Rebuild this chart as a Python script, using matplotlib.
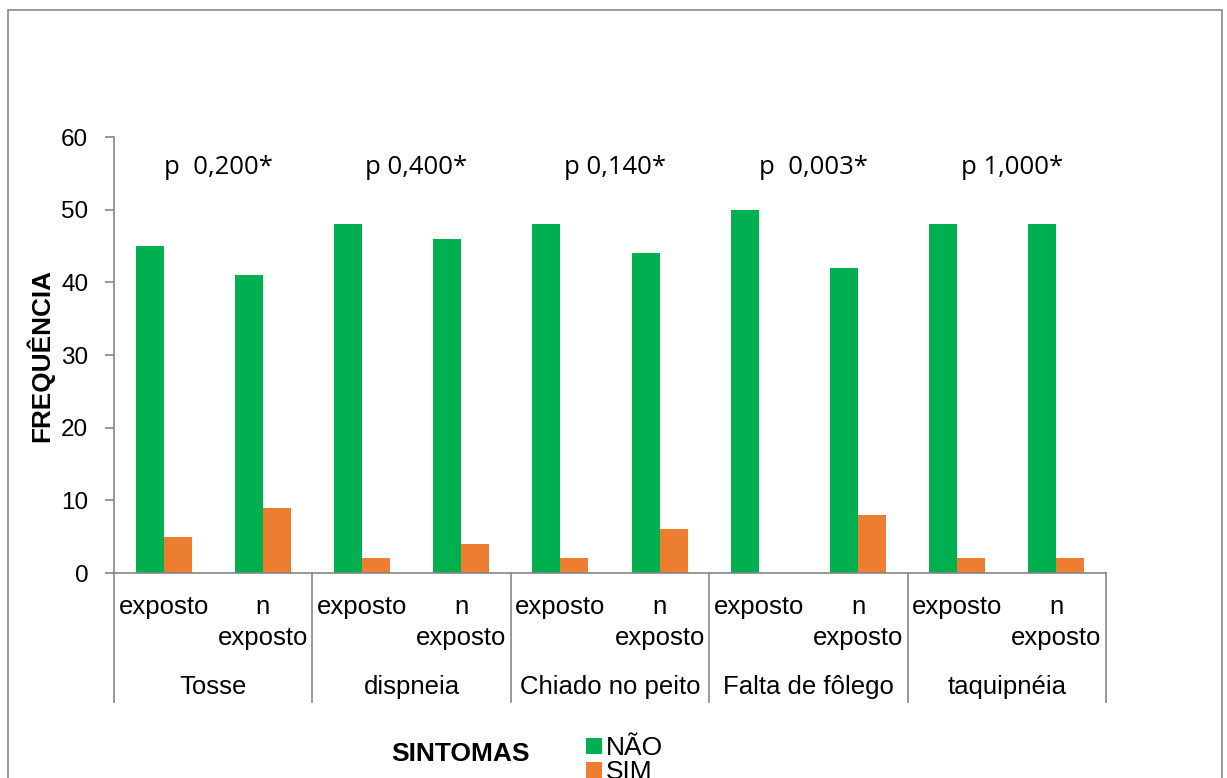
import matplotlib
matplotlib.use("Agg")
import matplotlib.pyplot as plt
import matplotlib.transforms as mtransforms
from matplotlib.patches import Rectangle
import numpy as np

# Data
sintomas = ["Tosse", "dispneia", "Chiado no peito", "Falta de fôlego", "taquipnéia"]
grupos = ["exposto", "n\nexposto"]
nao = [45, 41, 48, 46, 48, 44, 50, 42, 48, 48]
sim = [5, 9, 2, 4, 2, 6, 0, 8, 2, 2]
p_valores = ["p  0,200*", "p 0,400*", "p 0,140*", "p  0,003*", "p 1,000*"]
y_ticks = [0, 10, 20, 30, 40, 50, 60]

GREEN = "#00B050"
ORANGE = "#ED7D31"
AXIS = "#868686"
FONT = "Liberation Sans"

W, H = 1227, 778
fig = plt.figure(figsize=(W / 100, H / 100), dpi=100)
ax = fig.add_axes([114 / W, 1 - 573 / H, (1106 - 114) / W, (573 - 137) / H])

x = np.arange(len(nao))
bw = 0.282
b_nao = ax.bar(x - bw / 2, nao, bw, color=GREEN, label="NÃO")
b_sim = ax.bar(x + bw / 2, sim, bw, color=ORANGE, label="SIM")

ax.set_xlim(-0.5, len(nao) - 0.5)
ax.set_ylim(0, 60)
ax.set_yticks(y_ticks)
ax.set_yticklabels([str(v) for v in y_ticks], fontsize=17.5, family=FONT)
ax.tick_params(axis="y", direction="out", length=6.5, color=AXIS, width=1.2, pad=12)
ax.set_xticks([])
for s in ["top", "right"]:
    ax.spines[s].set_visible(False)
for s in ["left", "bottom"]:
    ax.spines[s].set_color(AXIS)
    ax.spines[s].set_linewidth(1.2)

# Two-level category axis below the plot
trans = mtransforms.blended_transform_factory(ax.transData, ax.transAxes)
ax_h = 573 - 137


def below(py):
    """Axes-fraction y for a pixel row below the x axis."""
    return -(py - 573) / ax_h


for b in np.arange(-0.5, len(nao), 2):
    ax.plot([b, b], [0, below(702)], transform=trans, color=AXIS,
            lw=1.2, clip_on=False)
for i, xi in enumerate(x):
    for row, linha in zip([607, 638], grupos[i % 2].split("\n")):
        ax.text(xi, below(row), linha, transform=trans,
                ha="center", va="center", fontsize=18.5, family=FONT)
for g, nome in enumerate(sintomas):
    ax.text(2 * g + 0.5, below(687), nome, transform=trans,
            ha="center", va="center", fontsize=18.5, family=FONT)
    ax.text(2 * g + 0.5 + 0.05, 55.8, p_valores[g], ha="center", va="center",
            fontsize=18.5, family="Open Sans")

fig.text(40 / W, 1 - 355 / H, "FREQUÊNCIA", rotation=90, ha="center", va="center",
         fontsize=18.8, fontweight="bold", family=FONT)
fig.text(460 / W, 1 - 754 / H, "SINTOMAS", ha="center", va="center",
         fontsize=19, fontweight="bold", family=FONT)

fig.legend(handles=[b_nao, b_sim], labels=["NÃO", "SIM"],
           loc="upper left", bbox_to_anchor=(573 / W, 1 - 723 / H),
           frameon=False, borderpad=0, labelspacing=0.0, handlelength=0.6,
           handleheight=0.6, handletextpad=0.15,
           prop={"family": FONT, "size": 19})

# Outer chart frame
fig.patches.append(Rectangle((8 / W, -0.05), (1222 - 8) / W, 1.05 - 10 / H,
                             transform=fig.transFigure, fill=False,
                             edgecolor=AXIS, lw=1.2))

fig.savefig("out.png", dpi=100)
